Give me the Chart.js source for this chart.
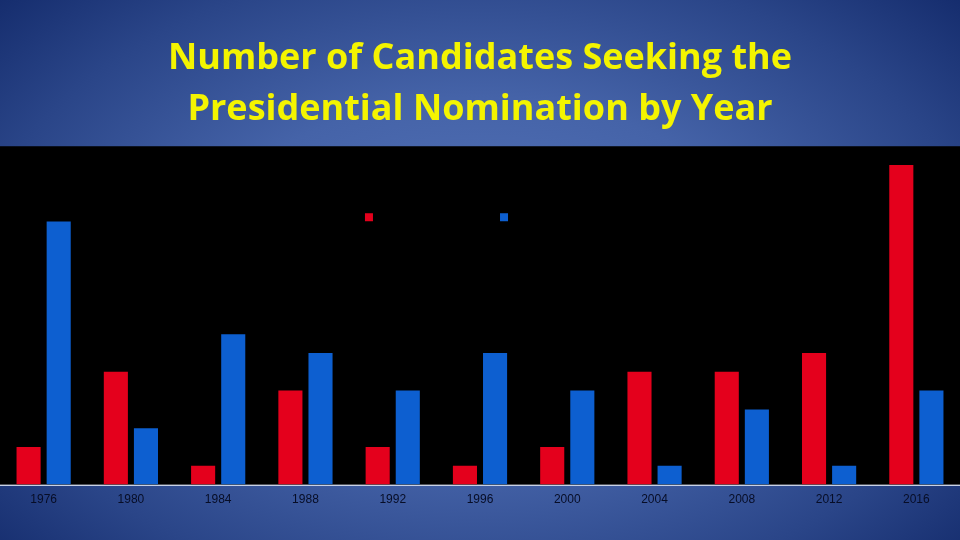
<!DOCTYPE html>
<html>
<head>
<meta charset="utf-8">
<script src="https://cdn.jsdelivr.net/npm/chart.js@4.4.0/dist/chart.umd.min.js"></script>
<style>
  html, body { margin: 0; padding: 0; width: 960px; height: 540px; overflow: hidden; }
  body { background: radial-gradient(ellipse 75% 85% at 50% 52%, #5776bb 0%, #4563a8 40%, #2a4588 70%, #0c2262 100%); }
  #wrap { position: relative; width: 960px; height: 540px; }
</style>
</head>
<body>
<div id="wrap"><canvas id="c" width="960" height="540"></canvas></div>
<script>
const titleLines = ["Number of Candidates Seeking the", "Presidential Nomination by Year"];
const years = ["1976", "1980", "1984", "1988", "1992", "1996", "2000", "2004", "2008", "2012", "2016"];
const republicans = [2, 6, 1, 5, 2, 1, 2, 6, 6, 7, 17];
const democrats = [14, 3, 8, 7, 5, 7, 5, 1, 4, 1, 5];
const seriesNames = ["Republican", "Democrat"];
const yMax = 18;

const blackPlot = {
  id: 'blackPlot',
  beforeDatasetsDraw(chart) {
    const {ctx, chartArea} = chart;
    ctx.save();
    ctx.fillStyle = '#000000';
    ctx.fillRect(0, chartArea.top, chart.width, chartArea.bottom - chartArea.top);
    ctx.restore();
  }
};

// Legend drawn inside the plot area (black text on black, as in the original)
const innerLegend = {
  id: 'innerLegend',
  afterDatasetsDraw(chart) {
    const {ctx, chartArea} = chart;
    const box = 8, gap = 9, spacing = 28;
    ctx.save();
    ctx.font = '18px "Liberation Sans"';
    ctx.textBaseline = 'middle';
    const items = chart.data.datasets.map(ds => ({
      label: ds.label, color: ds.backgroundColor,
      w: box + gap + ctx.measureText(ds.label).width
    }));
    const total = items.reduce((s, it) => s + it.w, 0) + spacing * (items.length - 1);
    let x = (chartArea.left + chartArea.right) / 2 - total / 2;
    const y = chartArea.top + 71;
    items.forEach(it => {
      ctx.fillStyle = it.color;
      ctx.fillRect(x, y - box / 2, box, box);
      ctx.fillStyle = '#000000';
      ctx.fillText(it.label, x + box + gap, y);
      x += it.w + spacing;
    });
    ctx.restore();
  }
};

new Chart(document.getElementById('c'), {
  type: 'bar',
  data: {
    labels: years,
    datasets: [
      { label: seriesNames[0], data: republicans, backgroundColor: '#e4001c', categoryPercentage: 0.69, barPercentage: 0.8 },
      { label: seriesNames[1], data: democrats, backgroundColor: '#0d5fd0', categoryPercentage: 0.69, barPercentage: 0.8 }
    ]
  },
  options: {
    responsive: false,
    animation: false,
    devicePixelRatio: 1,
    layout: { padding: { left: 0, right: 0, top: 0, bottom: 25 } },
    plugins: {
      title: {
        display: true,
        text: titleLines,
        color: '#f4f400',
        font: { family: 'Open Sans', weight: 'bold', size: 36, lineHeight: 1.42 },
        padding: { top: 33, bottom: 11 }
      },
      legend: { display: false },
      tooltip: { enabled: false }
    },
    scales: {
      x: {
        grid: { display: false, drawTicks: false },
        border: { display: true, color: '#c9d2e6', width: 2 },
        ticks: { color: '#070d26', padding: 8, font: { family: 'Liberation Sans', size: 12 } }
      },
      y: {
        display: false,
        min: 0,
        max: yMax
      }
    }
  },
  plugins: [blackPlot, innerLegend]
});
</script>
</body>
</html>
